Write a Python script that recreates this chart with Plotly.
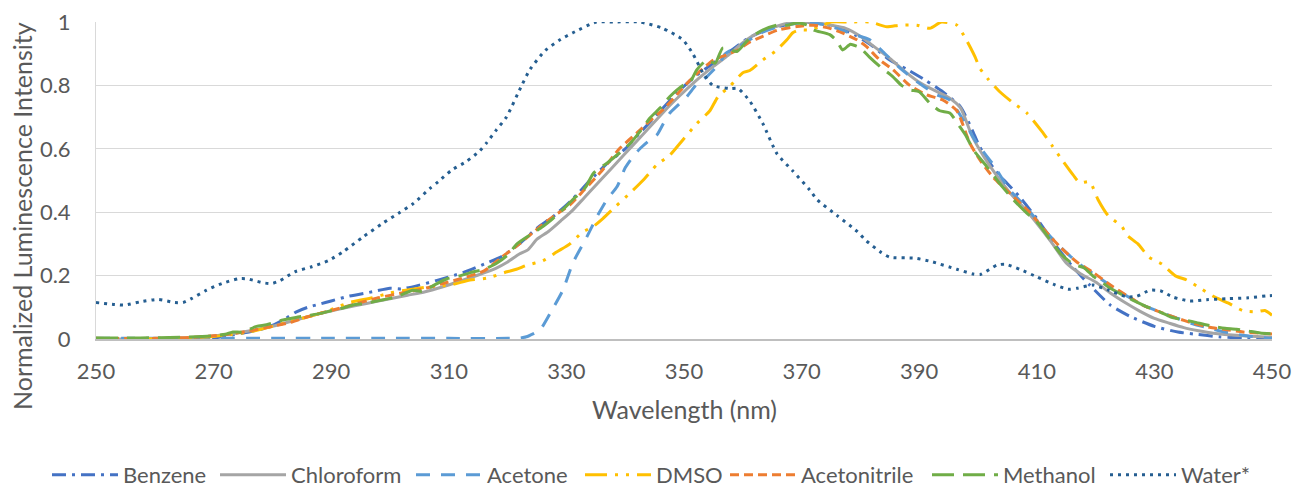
import plotly.graph_objects as go

# ---------------- data ----------------
benzene_x = [250, 260, 265, 270, 273, 276, 279, 282, 284, 286, 288, 290, 293, 297, 300, 302, 305, 308, 312.5, 316.5, 319, 322, 325, 328, 331, 334, 337, 340, 343, 346, 349, 352, 355, 358, 361, 364, 367, 370, 373, 376, 379, 382, 385, 388, 391, 394, 397, 399, 400.3, 403, 405, 407, 410, 413, 416, 419, 422.5, 426, 430, 434, 437, 441, 445, 450]
benzene_y = [0, 0, 0, 0.003, 0.012, 0.022, 0.035, 0.062, 0.085, 0.10, 0.11, 0.12, 0.135, 0.149, 0.16, 0.158, 0.17, 0.185, 0.21, 0.24, 0.26, 0.30, 0.35, 0.39, 0.44, 0.50, 0.555, 0.60, 0.66, 0.72, 0.78, 0.83, 0.87, 0.91, 0.95, 0.975, 0.99, 1.0, 0.995, 0.985, 0.96, 0.925, 0.88, 0.85, 0.817, 0.78, 0.733, 0.66, 0.606, 0.53, 0.49, 0.45, 0.38, 0.30, 0.23, 0.17, 0.107, 0.07, 0.04, 0.022, 0.015, 0.007, 0.003, 0.0]

chloroform_x = [250, 255, 260, 265, 268, 270, 273, 276, 280, 284, 288, 292, 296, 300, 303, 306, 309, 312, 315, 318, 320, 322, 323.5, 325, 327, 329, 331, 333, 335, 337.5, 340, 342.5, 345, 347.5, 350, 352.5, 355, 357.5, 360, 362.5, 365, 367.5, 370, 372.5, 375, 377.5, 380, 382.5, 385, 387.5, 390, 392.5, 395, 397, 399, 401, 403, 405.5, 408, 410, 412.5, 415, 417.5, 420, 422.5, 425, 427.5, 430, 432.5, 435, 437.5, 440, 445, 450]
chloroform_y = [0.0, 0.0, 0.001, 0.003, 0.006, 0.01, 0.016, 0.025, 0.04, 0.06, 0.08, 0.097, 0.112, 0.127, 0.138, 0.149, 0.165, 0.183, 0.202, 0.223, 0.243, 0.268, 0.282, 0.315, 0.34, 0.372, 0.405, 0.445, 0.485, 0.535, 0.585, 0.635, 0.685, 0.735, 0.78, 0.822, 0.86, 0.895, 0.935, 0.965, 0.982, 0.995, 1.0, 0.998, 0.99, 0.98, 0.955, 0.92, 0.885, 0.845, 0.81, 0.785, 0.762, 0.73, 0.64, 0.575, 0.52, 0.46, 0.41, 0.365, 0.305, 0.24, 0.205, 0.18, 0.145, 0.115, 0.088, 0.065, 0.05, 0.036, 0.026, 0.018, 0.01, 0.005]

acetone_x = [250, 260, 270, 280, 290, 300, 310, 320, 322, 323.2, 324.5, 325.5, 327.2, 329.4, 331.1, 333.5, 335.2, 336.9, 338.6, 340, 341.3, 342.5, 344.2, 345.4, 346.5, 347.6, 350.5, 352, 353.9, 356.1, 357, 360, 363, 366, 369, 371.4, 374, 376, 379, 381.6, 383.8, 386.7, 389, 391.3, 393, 395.2, 397.5, 399.8, 402.6, 405.4, 408, 410, 412, 414, 417, 420.7, 424.1, 428, 431, 433.8, 436.5, 439.4, 442, 445, 449, 450]
acetone_y = [0.002, 0.002, 0.002, 0.002, 0.002, 0.002, 0.002, 0.002, 0.003, 0.007, 0.018, 0.028, 0.08, 0.154, 0.24, 0.323, 0.386, 0.44, 0.48, 0.54, 0.575, 0.60, 0.628, 0.644, 0.68, 0.713, 0.765, 0.80, 0.828, 0.87, 0.90, 0.93, 0.965, 0.985, 0.995, 1.0, 0.99, 0.98, 0.96, 0.944, 0.907, 0.855, 0.82, 0.79, 0.77, 0.754, 0.69, 0.618, 0.55, 0.47, 0.42, 0.375, 0.33, 0.29, 0.24, 0.192, 0.149, 0.107, 0.085, 0.066, 0.048, 0.034, 0.022, 0.012, 0.003, 0.002]

dmso_x = [250, 260, 265, 270, 273, 276, 279, 282, 285, 288, 291, 293, 294.8, 297, 300, 303, 306.8, 310.2, 313.6, 316.5, 319.9, 321.5, 323.3, 326, 328.4, 330.6, 332.8, 334.5, 336.2, 338.3, 340.8, 343, 345.4, 347.6, 349.8, 352.2, 354.4, 355.8, 357.8, 360, 361.2, 363.4, 365.5, 367.5, 368.5, 369.7, 371.5, 373.6, 375, 378, 381.6, 384.5, 386.7, 389.6, 391.8, 393.8, 396.4, 398, 399.5, 400.3, 401.7, 403.7, 405.9, 408.3, 410.9, 412.6, 414.3, 416.2, 417.3, 419, 420.4, 422.1, 424.5, 425.3, 427.2, 429.1, 431.3, 433.5, 435.5, 437.4, 440, 442.5, 445.1, 447.4, 448.8, 450]
dmso_y = [0.0, 0.001, 0.003, 0.008, 0.014, 0.022, 0.035, 0.05, 0.065, 0.08, 0.10, 0.115, 0.122, 0.13, 0.145, 0.155, 0.165, 0.17, 0.186, 0.192, 0.212, 0.22, 0.233, 0.247, 0.275, 0.30, 0.338, 0.354, 0.38, 0.417, 0.46, 0.50, 0.55, 0.58, 0.628, 0.68, 0.72, 0.765, 0.797, 0.84, 0.847, 0.88, 0.907, 0.944, 0.966, 0.975, 0.975, 0.99, 1.0, 1.0, 1.0, 0.985, 0.99, 0.99, 0.98, 1.0, 0.99, 0.944, 0.89, 0.855, 0.82, 0.78, 0.746, 0.713, 0.654, 0.61, 0.565, 0.517, 0.493, 0.496, 0.44, 0.39, 0.354, 0.328, 0.30, 0.258, 0.236, 0.20, 0.186, 0.165, 0.135, 0.114, 0.089, 0.086, 0.09, 0.075]

acetonitrile_x = [250, 260, 265, 270, 273, 276, 280, 283, 286, 290, 294, 298, 302, 306, 309, 312, 316, 319, 322, 325.5, 328, 330.6, 333, 336, 339, 342, 344, 346.4, 349, 351, 353, 355, 357, 359, 361, 363.4, 366, 369.2, 372, 374.8, 377, 379.4, 381, 383.3, 385.5, 388.4, 391.3, 394, 396.4, 398.6, 400.5, 402.6, 405.4, 408.9, 411.5, 414, 416.8, 419.6, 423, 425.5, 428, 431, 433.8, 436.5, 439.4, 442, 445.1, 450]
acetonitrile_y = [0.002, 0.002, 0.004, 0.01, 0.016, 0.025, 0.04, 0.052, 0.07, 0.09, 0.11, 0.13, 0.145, 0.16, 0.175, 0.19, 0.215, 0.258, 0.30, 0.354, 0.39, 0.423, 0.47, 0.53, 0.60, 0.65, 0.685, 0.723, 0.775, 0.816, 0.85, 0.88, 0.895, 0.91, 0.935, 0.955, 0.975, 0.986, 0.99, 0.98, 0.965, 0.944, 0.923, 0.88, 0.85, 0.80, 0.77, 0.754, 0.72, 0.618, 0.56, 0.51, 0.46, 0.397, 0.34, 0.29, 0.243, 0.21, 0.164, 0.135, 0.107, 0.085, 0.066, 0.05, 0.037, 0.03, 0.022, 0.016]

methanol_x = [250, 255, 260, 265, 270, 272, 273.3, 275, 277.3, 279, 281.8, 284, 286.4, 288, 290.3, 292, 293.7, 295.5, 297.8, 300, 301.7, 303.9, 305.5, 307.5, 309.7, 312, 314.2, 316, 318.2, 320, 321.6, 324.3, 326, 327.7, 329.5, 331.1, 332, 333.3, 334.6, 336.9, 339.7, 341, 342.5, 344.2, 346, 347.6, 349.8, 351, 352.2, 353.9, 355.3, 356.6, 359, 360.7, 362.9, 365.8, 367.5, 369.2, 371, 372, 374.8, 376, 377, 378.3, 379.4, 380, 381.5, 383.3, 385.5, 387, 388.4, 390, 391.8, 393.5, 395.2, 396.9, 398, 399.2, 401.5, 403.7, 406, 408.3, 410, 412, 414, 416.2, 418, 419.6, 421, 422.5, 424.5, 426.4, 429.3, 431, 432.7, 434.5, 436.7, 438.5, 440.6, 442, 444, 446, 448, 450]
methanol_y = [0.003, 0.003, 0.004, 0.006, 0.01, 0.015, 0.022, 0.022, 0.04, 0.045, 0.06, 0.068, 0.075, 0.08, 0.091, 0.098, 0.107, 0.112, 0.12, 0.128, 0.138, 0.154, 0.15, 0.17, 0.19, 0.20, 0.212, 0.22, 0.24, 0.265, 0.30, 0.334, 0.355, 0.38, 0.41, 0.44, 0.455, 0.48, 0.523, 0.555, 0.597, 0.62, 0.654, 0.697, 0.73, 0.765, 0.80, 0.81, 0.85, 0.88, 0.87, 0.918, 0.907, 0.94, 0.97, 0.99, 0.99, 0.997, 0.99, 0.975, 0.96, 0.94, 0.912, 0.93, 0.923, 0.918, 0.89, 0.86, 0.828, 0.80, 0.786, 0.78, 0.744, 0.72, 0.713, 0.67, 0.64, 0.597, 0.544, 0.49, 0.44, 0.397, 0.37, 0.32, 0.27, 0.236, 0.225, 0.198, 0.18, 0.16, 0.14, 0.122, 0.097, 0.085, 0.07, 0.062, 0.054, 0.046, 0.038, 0.034, 0.031, 0.025, 0.019, 0.016]

water_x = [250, 253.2, 254.8, 257.5, 260.6, 263.4, 264.8, 266.3, 268.8, 271.4, 274.2, 275.6, 277, 278.5, 279.9, 281.3, 283.8, 286.7, 289.5, 292, 295.5, 298.9, 301.4, 304, 306.8, 308.2, 310.5, 313, 315.3, 316.4, 318.1, 319.8, 322.4, 323.8, 326.4, 329, 331.1, 335.1, 338, 342.5, 346.4, 349.8, 351.5, 353.2, 354.9, 357.8, 359.2, 361.2, 363.4, 365.8, 368.5, 371.4, 372.6, 376, 379.4, 381, 383.6, 385, 389.3, 392.1, 396.4, 399.2, 400.5, 403.2, 404.6, 407.1, 410, 412.8, 415.3, 416.8, 419.6, 422.2, 425.3, 427, 429.3, 431, 433.2, 436, 438.9, 442.3, 446, 449.1, 450]
water_y = [0.115, 0.109, 0.107, 0.117, 0.125, 0.115, 0.115, 0.128, 0.154, 0.175, 0.19, 0.19, 0.184, 0.177, 0.175, 0.184, 0.212, 0.228, 0.247, 0.275, 0.323, 0.367, 0.396, 0.428, 0.475, 0.496, 0.533, 0.56, 0.594, 0.618, 0.66, 0.70, 0.80, 0.85, 0.91, 0.945, 0.966, 1.0, 1.0, 1.0, 0.98, 0.944, 0.90, 0.84, 0.80, 0.79, 0.79, 0.75, 0.68, 0.585, 0.53, 0.47, 0.44, 0.39, 0.34, 0.31, 0.272, 0.258, 0.255, 0.244, 0.22, 0.205, 0.204, 0.233, 0.236, 0.22, 0.196, 0.173, 0.157, 0.16, 0.17, 0.154, 0.133, 0.135, 0.154, 0.152, 0.132, 0.12, 0.124, 0.127, 0.13, 0.136, 0.137]

x_ticks = [250, 270, 290, 310, 330, 350, 370, 390, 410, 430, 450]
y_ticks = [0, 0.2, 0.4, 0.6, 0.8, 1]
y_ticktext = ["0", "0.2", "0.4", "0.6", "0.8", "1"]

# ---------------- figure ----------------
FONT = "Lato, Open Sans, sans-serif"
TXT = "#595959"

series = [
    ("Benzene", benzene_x, benzene_y, "#4472C4", "14px,6px,3px,6px", 87),
    ("Chloroform", chloroform_x, chloroform_y, "#A5A5A5", "solid", 115),
    ("Acetone", acetone_x, acetone_y, "#5B9BD5", "14px,11px", 88),
    ("DMSO", dmso_x, dmso_y, "#FFC000", "22px,8px,3px,8px,3px,8px", 64),
    ("Acetonitrile", acetonitrile_x, acetonitrile_y, "#ED7D31", "9px,5px", 121),
    ("Methanol", methanol_x, methanol_y, "#70AD47", "22px,9px", 97),
    ("Water*", water_x, water_y, "#255E91", "3px,5px", 72),
]

fig = go.Figure()
for name, xs, ys, col, dash, lw in series:
    fig.add_trace(go.Scatter(
        x=xs, y=ys, name=name, mode="lines",
        line=dict(color=col, width=3, dash=dash, shape="spline", smoothing=0.6),
        legendwidth=lw,
    ))

fig.update_layout(
    width=1295, height=489,
    margin=dict(l=96, r=23, t=22, b=150, autoexpand=False),
    paper_bgcolor="white", plot_bgcolor="white",
    font=dict(family=FONT, color=TXT, size=22),
    showlegend=True,
    legend=dict(
        orientation="h", xref="paper", yref="paper",
        x=(47 - 96) / 1176, xanchor="left", y=(339 - 475) / 317, yanchor="middle",
        font=dict(size=22, color=TXT, family=FONT),
        itemwidth=66, itemclick=False, tracegroupgap=0,
    ),
    xaxis=dict(
        range=[250, 450], tickmode="array", tickvals=x_ticks,
        showgrid=False, zeroline=False, showline=True,
        linecolor="#BFBFBF", linewidth=1.5, ticks="",
        tickfont=dict(size=22, color=TXT), ticklabelstandoff=12,
    ),
    yaxis=dict(
        range=[0, 1], tickmode="array", tickvals=y_ticks, ticktext=y_ticktext,
        showgrid=True, gridcolor="#D9D9D9", gridwidth=1, zeroline=False,
        showline=True, linecolor="#D9D9D9", linewidth=1, ticks="",
        tickfont=dict(size=22, color=TXT), ticklabelstandoff=20,
    ),
    annotations=[
        dict(text="Wavelength (nm)", xref="paper", yref="paper",
             x=0.5, y=(339 - 409) / 317, xanchor="center", yanchor="middle",
             showarrow=False, font=dict(size=25, color=TXT, family=FONT)),
        dict(text="Normalized Luminescence Intensity", xref="paper", yref="paper",
             x=(22 - 96) / 1176, y=(339 - 216) / 317, xanchor="center", yanchor="middle",
             textangle=-90, showarrow=False, font=dict(size=25, color=TXT, family=FONT)),
    ],
)

fig.write_html("out.html")
